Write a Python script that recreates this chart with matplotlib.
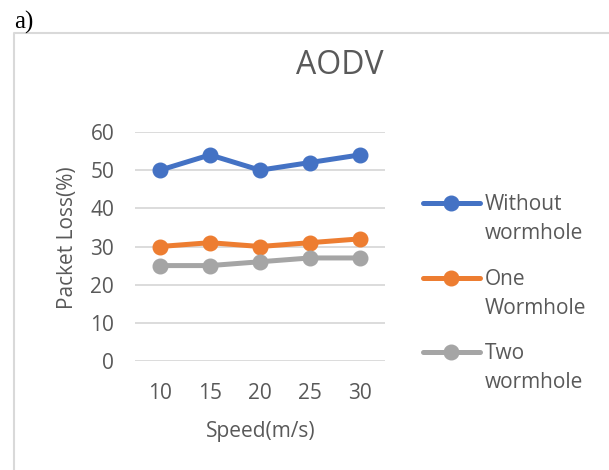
import matplotlib.pyplot as plt
from matplotlib.lines import Line2D

plt.rcParams["font.family"] = ["Open Sans", "DejaVu Sans"]

# datos
velocidades = ["10", "15", "20", "25", "30"]
sin_wormhole = [50, 54, 50, 52, 54]
un_wormhole = [30, 31, 30, 31, 32]
dos_wormhole = [25, 25, 26, 27, 27]

series = [sin_wormhole, un_wormhole, dos_wormhole]
etiquetas = ["Without\nwormhole", "One\nWormhole", "Two\nwormhole"]
colores = ["#4472C4", "#ED7D31", "#A5A5A5"]

W, H = 609, 470
GRIS_TEXTO = "#595959"
GRIS_GRID = "#D9D9D9"

fig = plt.figure(figsize=(W / 100, H / 100), dpi=100)
ax = fig.add_axes([135 / W, 1 - 361 / H, 250 / W, 229 / H])

x = range(len(velocidades))
for valores, color in zip(series, colores):
    ax.plot(x, valores, color=color, lw=3.6, marker="o", ms=10.5,
            solid_capstyle="round", zorder=3)

ax.set_xlim(-0.5, len(velocidades) - 0.5)
ax.set_ylim(0, 60)
ax.set_yticks(range(0, 61, 10))
ax.set_xticks(list(x))
ax.set_xticklabels(velocidades)
ax.grid(axis="y", color=GRIS_GRID, lw=1.3)
ax.set_axisbelow(True)
for s in ax.spines.values():
    s.set_visible(False)
ax.tick_params(axis="both", length=0, labelsize=15, labelcolor=GRIS_TEXTO)
ax.tick_params(axis="y", pad=15)
ax.tick_params(axis="x", pad=16)

# titulo y etiquetas de ejes
fig.text(340 / W, 1 - 66 / H, "AODV", fontsize=23, color=GRIS_TEXTO,
         ha="center", va="center")
fig.text(67 / W, 1 - 238 / H, "Packet Loss(%)", fontsize=15, color=GRIS_TEXTO,
         rotation=90, ha="center", va="center")
fig.text(261 / W, 1 - 432 / H, "Speed(m/s)", fontsize=15, color=GRIS_TEXTO,
         ha="center", va="center")

# leyenda manual al estilo Excel
y_leyenda = [203, 278, 352]
for etiqueta, color, yl in zip(etiquetas, colores, y_leyenda):
    fig.add_artist(Line2D([423 / W, 480 / W], [1 - yl / H, 1 - yl / H],
                          color=color, lw=3.6, solid_capstyle="round"))
    fig.add_artist(Line2D([451 / W], [1 - yl / H], color=color, marker="o",
                          ms=10.5, lw=0))
    fig.text(485 / W, 1 - (yl - 9) / H, etiqueta, fontsize=15,
             color=GRIS_TEXTO, ha="left", va="top", linespacing=1.5)

# marco del area del grafico
fig.add_artist(Line2D([13.5 / W, 13.5 / W, 1], [0, 1 - 33 / H, 1 - 33 / H],
                      color=GRIS_GRID, lw=1.5))

fig.text(14 / W, 1 - 22 / H, "a)", fontsize=18, family="Liberation Serif",
         color="black", ha="left", va="center")

fig.savefig("out.png", dpi=100)
